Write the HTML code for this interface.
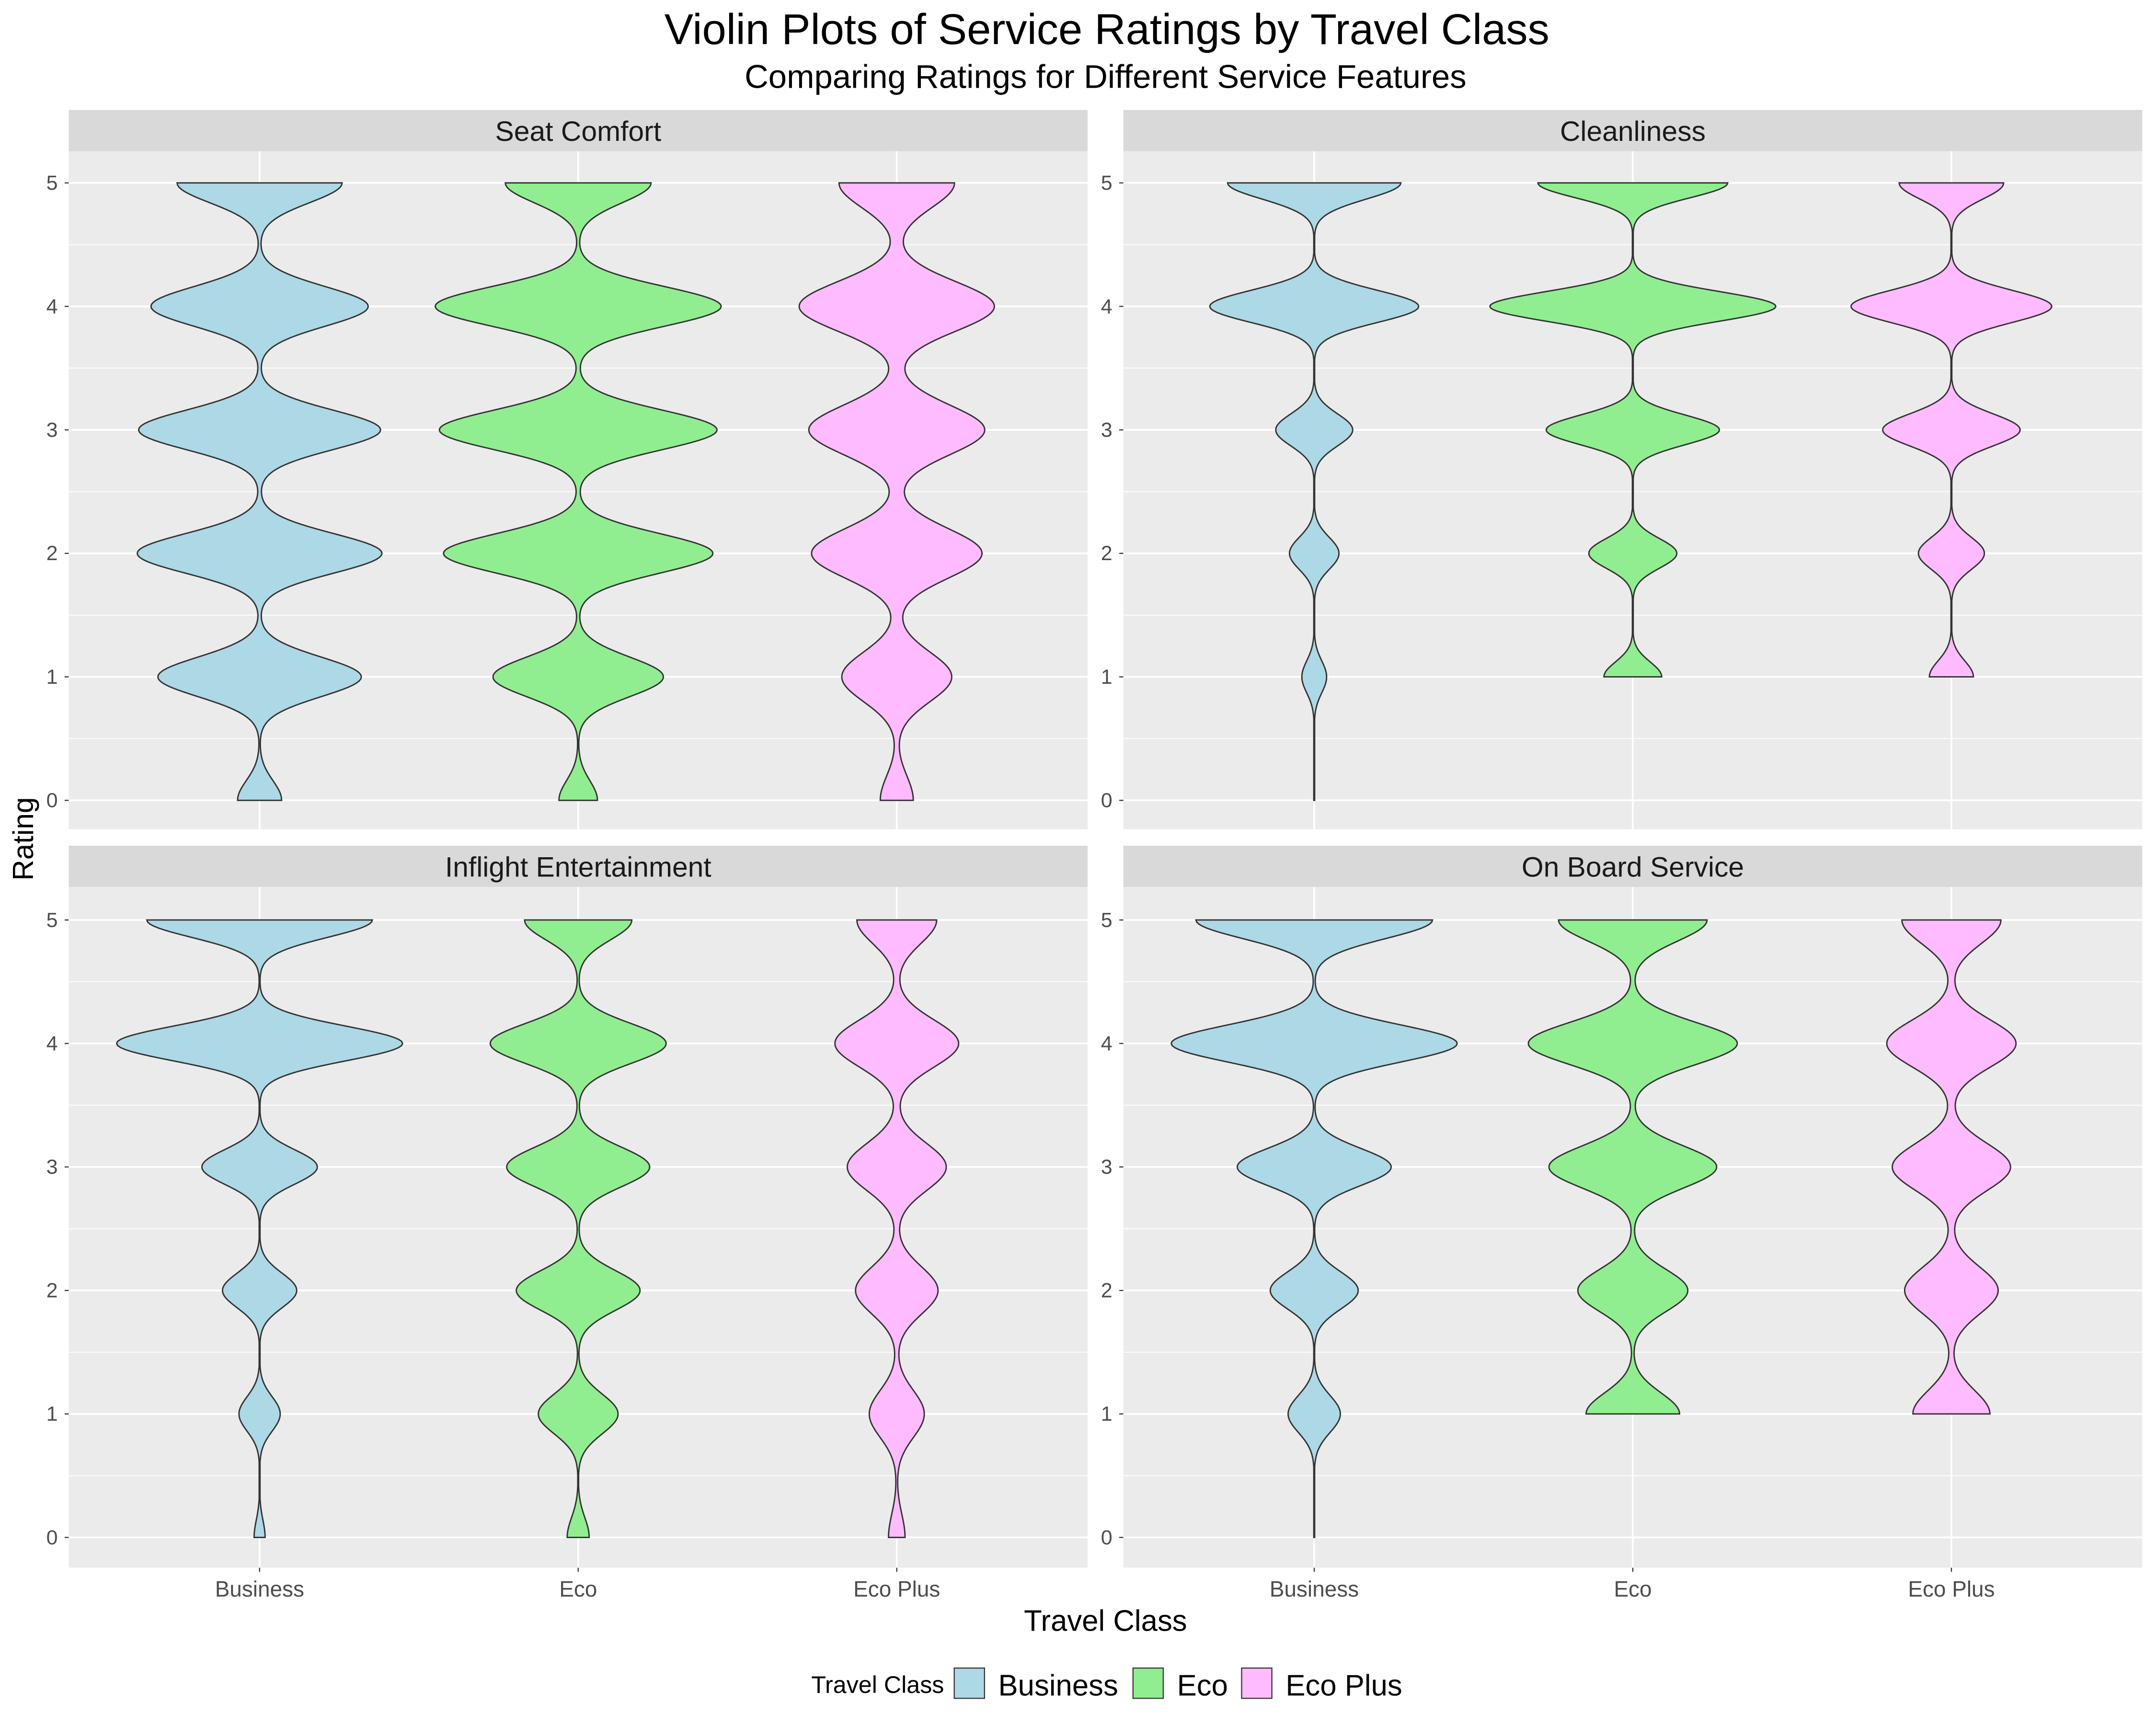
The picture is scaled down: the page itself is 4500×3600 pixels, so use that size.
<!DOCTYPE html>
<html><head><meta charset="utf-8"><style>
html,body{margin:0;padding:0;background:#fff}
svg{display:block}
text{font-family:"Liberation Sans",sans-serif}
</style></head><body>
<svg id="chart" width="4500" height="3600" viewBox="0 0 1568 1254.4" preserveAspectRatio="none" xmlns="http://www.w3.org/2000/svg">
<rect width="1568" height="1254.4" fill="#fff"/>
<text x="805" y="32" font-size="31.5" text-anchor="middle" fill="#000">Violin Plots of Service Ratings by Travel Class</text>
<text x="804" y="64" font-size="24" text-anchor="middle" fill="#000">Comparing Ratings for Different Service Features</text>
<text transform="translate(24,610) rotate(-90)" font-size="21" text-anchor="middle">Rating</text>
<text x="804" y="1186" font-size="21.5" text-anchor="middle">Travel Class</text>
<g id="panels"></g>
<g>
<text x="590" y="1231" font-size="17.5">Travel Class</text>
<rect x="694" y="1213" width="22" height="22" fill="#ADD8E6" stroke="#333" stroke-width="0.8"/>
<text x="726" y="1233" font-size="21.5">Business</text>
<rect x="824" y="1213" width="22" height="22" fill="#90EE90" stroke="#333" stroke-width="0.8"/>
<text x="856" y="1233" font-size="21.5">Eco</text>
<rect x="903" y="1213" width="22" height="22" fill="#FFBBFF" stroke="#333" stroke-width="0.8"/>
<text x="935" y="1233" font-size="21.5">Eco Plus</text>
</g>
</svg>
<script>
const facets=["Seat Comfort","Cleanliness","Inflight Entertainment","On Board Service"];
const classes=["Business","Eco","Eco Plus"];
const colors=["#ADD8E6","#90EE90","#FFBBFF"];
const yTicks=[0,1,2,3,4,5];
// half-width of each violin at ratings 0..5 (per facet, per class)
const seatComfort=[[16,74,89,88,79,60],[14,62,98,101,104,53],[12,40,62,64,71,42]];
const cleanliness=[[0,9,18,28,76,63],[0,21,32,63,104,69],[0,16,24,50,73,38]];
const inflight=[[4,15,27,42,104,82],[8,29,45,52,64,39],[6,20,30,36,45,29]];
const onBoard=[[0,19,32,56,104,86],[0,34,40,61,76,54],[0,28,34,43,47,36]];
const ranges=[[[0,5],[0,5],[0,5]],[[0,5],[1,5],[1,5]],[[0,5],[0,5],[0,5]],[[0,5],[1,5],[1,5]]];
const bws=[[0.16,0.16,0.2],[0.13,0.12,0.13],[0.14,0.16,0.19],[0.15,0.17,0.19]];
const allData=[seatComfort,cleanliness,inflight,onBoard];

const NS="http://www.w3.org/2000/svg";
const root=document.getElementById('panels');
function mk(tag,attrs,parent){const e=document.createElementNS(NS,tag);for(const k in attrs)e.setAttribute(k,attrs[k]);parent.appendChild(e);return e;}
const panels=[{x0:50,x1:791,sy:80,py0:110,py1:603,y5:133,y0:582},{x0:817,x1:1558,sy:80,py0:110,py1:603,y5:133,y0:582},
{x0:50,x1:791,sy:615,py0:645,py1:1140,y5:669,y0:1118},{x0:817,x1:1558,sy:615,py0:645,py1:1140,y5:669,y0:1118}];
facets.forEach((f,fi)=>{
  const P=panels[fi];
  const g=mk('g',{},root);
  
  
  const yS=v=>P.y0+(P.y5-P.y0)*v/5;
  const mid=(P.x0+P.x1)/2;
  const xS=i=>mid+(i-1)*231.7;
  const strip=mk('rect',{x:P.x0,y:P.sy,width:P.x1-P.x0,height:P.py0-P.sy,fill:'#D9D9D9'},g);
  
  
  const st=mk('text',{x:mid,y:P.sy+22.5,'font-size':20.5,'text-anchor':'middle',fill:'#1a1a1a'},g);
  st.textContent=f;
  
  
  mk('rect',{x:P.x0,y:P.py0,width:P.x1-P.x0,height:P.py1-P.py0,fill:'#EBEBEB'},g);
  for(let v=-0.5;v<=5.5;v+=0.5){const y=yS(v);if(y<P.py0||y>P.py1)continue;
    mk('line',{x1:P.x0,x2:P.x1,y1:y,y2:y,stroke:'#fff','stroke-width':Number.isInteger(v)?1.3:0.6},g);}
  classes.forEach((c,ci)=>mk('line',{x1:xS(ci),x2:xS(ci),y1:P.py0,y2:P.py1,stroke:'#fff','stroke-width':1.3},g));
  yTicks.forEach(t=>{
    mk('line',{x1:P.x0-3,x2:P.x0,y1:yS(t),y2:yS(t),stroke:'#333','stroke-width':0.8},g);
    const tx=mk('text',{x:P.x0-8,y:yS(t)+5,'font-size':15,'text-anchor':'end',fill:'#4d4d4d'},g);
    tx.textContent=t;
    
    
  });
  if(fi>=2) classes.forEach((c,ci)=>{
    mk('line',{x1:xS(ci),x2:xS(ci),y1:P.py1,y2:P.py1+3,stroke:'#333','stroke-width':0.8},g);
    const tx=mk('text',{x:xS(ci),y:P.py1+21,'font-size':16,'text-anchor':'middle',fill:'#4d4d4d'},g);
    tx.textContent=c;
    
    
  });
  classes.forEach((c,ci)=>{
    const w=allData[fi][ci],[lo,hi]=ranges[fi][ci],bw=bws[fi][ci];
    const dens=v=>{let s=0;for(let k=0;k<w.length;k++)s+=w[k]*Math.exp(-((v-k)**2)/(2*bw*bw));return s;};
    const N=300,L=[],R=[];
    for(let i=0;i<=N;i++){const v=lo+(hi-lo)*i/N;const d=Math.max(dens(v),0.3);
      L.push([xS(ci)-d,yS(v)]);R.push([xS(ci)+d,yS(v)]);}
    const pts=R.concat(L.reverse());
    const d='M'+pts.map(p=>p[0].toFixed(2)+','+p[1].toFixed(2)).join('L')+'Z';
    const path=mk('path',{d:d,fill:colors[ci],stroke:'#333','stroke-width':1},g);
    
    
  });
});
</script>
</body></html>
